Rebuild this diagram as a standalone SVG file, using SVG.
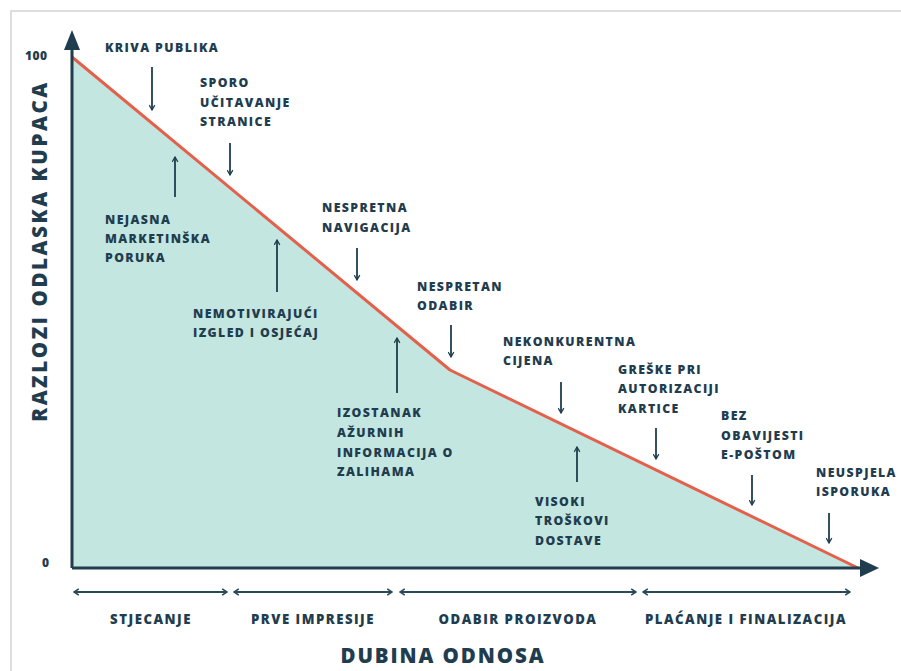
<svg xmlns="http://www.w3.org/2000/svg" width="901" height="671" viewBox="0 0 901 671">
<defs>
<style>
.t{font-family:"Open Sans","Noto Sans","Liberation Sans",sans-serif;font-weight:800;fill:#1f3d4e;letter-spacing:1.4px;font-size:12.3px}
.ph{font-size:13.2px;letter-spacing:1.5px;text-anchor:middle}
.ax{font-size:20.5px;letter-spacing:2.6px;text-anchor:middle}
.ax2{letter-spacing:1.9px}
.num{font-size:12px;letter-spacing:0.5px}
.arr{stroke:#1f3d4e;stroke-width:1.8;fill:none;marker-end:url(#chev)}
.ph-arr{stroke:#2a4a5a;stroke-width:2;fill:none;marker-start:url(#chev2);marker-end:url(#chev2)}
</style>
<marker id="chev" viewBox="0 0 10 10" refX="9" refY="5" markerWidth="7" markerHeight="7" markerUnits="userSpaceOnUse" orient="auto">
<path d="M2,1 L9,5 L2,9" fill="none" stroke="#1f3d4e" stroke-width="1.8"/>
</marker>
<marker id="chev2" viewBox="0 0 10 10" refX="9" refY="5" markerWidth="8" markerHeight="8" markerUnits="userSpaceOnUse" orient="auto-start-reverse">
<path d="M3,1 L9,5 L3,9" fill="none" stroke="#2a4a5a" stroke-width="2"/>
</marker>
</defs>
<rect width="901" height="671" fill="#ffffff"/>
<path d="M11,671 L11,11 L901,11" fill="none" stroke="#d4d4d4" stroke-width="1.5"/>

<g id="chart-area">
<polygon points="72,57 450,370 858,568 72,568" fill="#c4e6e0"/>
<polyline points="72,57 450,370 858,568" fill="none" stroke="#e5604b" stroke-width="3" stroke-linejoin="round"/>
</g>

<g id="axes">
<line x1="72" y1="568" x2="72" y2="46" stroke="#1f3d4e" stroke-width="3"/>
<polygon points="72,30 80,50 64,50" fill="#1f3d4e"/>
<line x1="72" y1="568" x2="864" y2="568" stroke="#1f3d4e" stroke-width="3"/>
<polygon points="879,568 860,559 860,577" fill="#1f3d4e"/>
<text class="t num" x="25" y="60">100</text>
<text class="t num" x="42" y="567">0</text>
<text class="t ax" transform="translate(47,251) rotate(-90)">RAZLOZI ODLASKA KUPACA</text>
<text class="t ax ax2" x="443" y="663">DUBINA ODNOSA</text>
</g>

<g id="phases">
<line class="ph-arr" x1="74" y1="592" x2="227" y2="592"/>
<line class="ph-arr" x1="234" y1="592" x2="392" y2="592"/>
<line class="ph-arr" x1="400" y1="592" x2="636" y2="592"/>
<line class="ph-arr" x1="643" y1="592" x2="850" y2="592"/>
<text class="t ph" x="151" y="624">STJECANJE</text>
<text class="t ph" x="313" y="624">PRVE IMPRESIJE</text>
<text class="t ph" x="518" y="624">ODABIR PROIZVODA</text>
<text class="t ph" x="746" y="624">PLAĆANJE I FINALIZACIJA</text>
</g>

<g id="connectors">
<line class="arr" x1="152" y1="67" x2="152" y2="110"/>
<line class="arr" x1="230" y1="143" x2="230" y2="175"/>
<line class="arr" x1="175" y1="197" x2="175" y2="157"/>
<line class="arr" x1="277" y1="292" x2="277" y2="240"/>
<line class="arr" x1="357" y1="248" x2="357" y2="280"/>
<line class="arr" x1="451" y1="325" x2="451" y2="357"/>
<line class="arr" x1="397" y1="393" x2="397" y2="338"/>
<line class="arr" x1="561" y1="382" x2="561" y2="413"/>
<line class="arr" x1="577" y1="482" x2="577" y2="447"/>
<line class="arr" x1="656" y1="428" x2="656" y2="459"/>
<line class="arr" x1="752" y1="475" x2="752" y2="505"/>
<line class="arr" x1="829" y1="513" x2="829" y2="543"/>
</g>

<g id="n-kriva-publika"><text class="t" x="105" y="52">KRIVA PUBLIKA</text></g>
<g id="n-sporo"><text class="t" x="200"><tspan x="200" y="87">SPORO</tspan><tspan x="200" y="107">UČITAVANJE</tspan><tspan x="200" y="126">STRANICE</tspan></text></g>
<g id="n-nejasna"><text class="t"><tspan x="105" y="224">NEJASNA</tspan><tspan x="105" y="243">MARKETINŠKA</tspan><tspan x="105" y="262">PORUKA</tspan></text></g>
<g id="n-nemotivirajuci"><text class="t"><tspan x="193" y="318">NEMOTIVIRAJUĆI</tspan><tspan x="193" y="337">IZGLED I OSJEĆAJ</tspan></text></g>
<g id="n-navigacija"><text class="t"><tspan x="322" y="212">NESPRETNA</tspan><tspan x="322" y="232">NAVIGACIJA</tspan></text></g>
<g id="n-odabir"><text class="t"><tspan x="417" y="291">NESPRETAN</tspan><tspan x="417" y="310">ODABIR</tspan></text></g>
<g id="n-izostanak"><text class="t"><tspan x="337" y="417">IZOSTANAK</tspan><tspan x="337" y="437">AŽURNIH</tspan><tspan x="337" y="457">INFORMACIJA O</tspan><tspan x="337" y="476">ZALIHAMA</tspan></text></g>
<g id="n-cijena"><text class="t"><tspan x="503" y="346">NEKONKURENTNA</tspan><tspan x="503" y="365">CIJENA</tspan></text></g>
<g id="n-dostava"><text class="t"><tspan x="535" y="506">VISOKI</tspan><tspan x="535" y="525">TROŠKOVI</tspan><tspan x="535" y="545">DOSTAVE</tspan></text></g>
<g id="n-kartica"><text class="t"><tspan x="618" y="374">GREŠKE PRI</tspan><tspan x="618" y="393">AUTORIZACIJI</tspan><tspan x="618" y="413">KARTICE</tspan></text></g>
<g id="n-eposta"><text class="t"><tspan x="721" y="420">BEZ</tspan><tspan x="721" y="440">OBAVIJESTI</tspan><tspan x="721" y="459">E-POŠTOM</tspan></text></g>
<g id="n-isporuka"><text class="t"><tspan x="816" y="477">NEUSPJELA</tspan><tspan x="816" y="496">ISPORUKA</tspan></text></g>
</svg>
